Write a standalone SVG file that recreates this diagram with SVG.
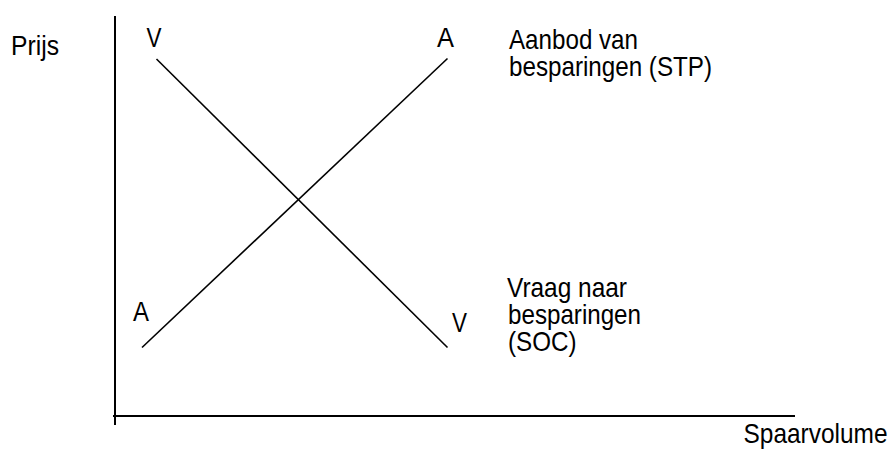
<svg xmlns="http://www.w3.org/2000/svg" width="890" height="449" viewBox="0 0 890 449">
<style>
  .t { font-family: "Liberation Sans Narrow", "Liberation Sans", Arial, sans-serif; font-size: 27.5px; fill: #000; }
  .axis { stroke: #000; stroke-width: 2; fill: none; }
  .curve { stroke: #000; stroke-width: 1.6; fill: none; }
</style>
<rect width="890" height="449" fill="#fff"/>
<g id="axes">
  <line class="axis" x1="115" y1="16" x2="115" y2="425"/>
  <line class="axis" x1="113" y1="416" x2="795" y2="416"/>
</g>
<g id="curves">
  <line id="vraag" class="curve" x1="156.5" y1="59" x2="447.5" y2="347.5"/>
  <line id="aanbod" class="curve" x1="142" y1="347.5" x2="447.5" y2="58.5"/>
</g>
<g id="labels">
  <text class="t" x="11" y="54.5" textLength="48" lengthAdjust="spacingAndGlyphs">Prijs</text>
  <text class="t" x="146.5" y="46.7" textLength="15" lengthAdjust="spacingAndGlyphs">V</text>
  <text class="t" x="437" y="47" textLength="17" lengthAdjust="spacingAndGlyphs">A</text>
  <text class="t" x="133" y="320.5" textLength="16" lengthAdjust="spacingAndGlyphs">A</text>
  <text class="t" x="452" y="332" textLength="15" lengthAdjust="spacingAndGlyphs">V</text>
  <text class="t" x="509" y="49" textLength="129" lengthAdjust="spacingAndGlyphs">Aanbod van</text>
  <text class="t" x="509" y="76" textLength="203" lengthAdjust="spacingAndGlyphs">besparingen (STP)</text>
  <text class="t" x="507" y="296.5" textLength="120" lengthAdjust="spacingAndGlyphs">Vraag naar</text>
  <text class="t" x="508" y="323.5" textLength="133" lengthAdjust="spacingAndGlyphs">besparingen</text>
  <text class="t" x="508" y="350.5" textLength="68.5" lengthAdjust="spacingAndGlyphs">(SOC)</text>
  <text class="t" x="743.5" y="442.5" textLength="144" lengthAdjust="spacingAndGlyphs">Spaarvolume</text>
</g>
</svg>
